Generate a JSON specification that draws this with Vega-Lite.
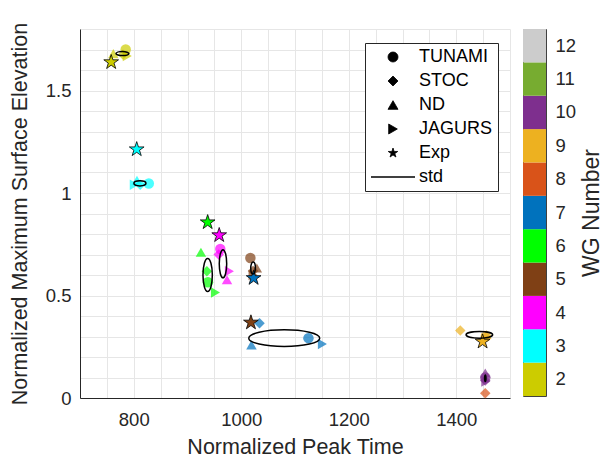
{
  "$schema": "https://vega.github.io/schema/vega-lite/v6.json",
  "background": "white",
  "padding": {"left": 9, "top": 20, "right": 5, "bottom": 5},
  "config": {
    "font": "Liberation Sans",
    "view": {"stroke": null},
    "axis": {
      "labelColor": "#262626",
      "titleColor": "#262626",
      "domainColor": "#262626",
      "tickColor": "#262626",
      "labelFontSize": 18.5,
      "titleFontSize": 21.5,
      "titleFontWeight": "normal"
    }
  },
  "spacing": 12,
  "resolve": {
    "scale": {"y": "independent", "x": "independent", "color": "shared"},
    "legend": {"shape": "independent", "color": "independent", "size": "independent"}
  },
  "hconcat": [
    {
      "width": 430,
      "height": 369,
      "layer": [
        {
          "data": {"values": [
            {"wg": 2, "model": "TUNAMI", "t": 785, "eta": 1.70},
            {"wg": 2, "model": "STOC", "t": 780, "eta": 1.675},
            {"wg": 2, "model": "ND", "t": 762, "eta": 1.68},
            {"wg": 2, "model": "JAGURS", "t": 788, "eta": 1.668},
            {"wg": 3, "model": "TUNAMI", "t": 828, "eta": 1.046},
            {"wg": 3, "model": "STOC", "t": 812, "eta": 1.04},
            {"wg": 3, "model": "ND", "t": 806, "eta": 1.062},
            {"wg": 3, "model": "JAGURS", "t": 801, "eta": 1.04},
            {"wg": 4, "model": "TUNAMI", "t": 961, "eta": 0.727},
            {"wg": 4, "model": "STOC", "t": 958, "eta": 0.70},
            {"wg": 4, "model": "ND", "t": 973.5, "eta": 0.577},
            {"wg": 4, "model": "JAGURS", "t": 978, "eta": 0.618},
            {"wg": 5, "model": "TUNAMI", "t": 1017, "eta": 0.683},
            {"wg": 5, "model": "STOC", "t": 1022, "eta": 0.62},
            {"wg": 5, "model": "ND", "t": 1029, "eta": 0.634},
            {"wg": 5, "model": "JAGURS", "t": 1022, "eta": 0.60},
            {"wg": 6, "model": "TUNAMI", "t": 938, "eta": 0.565},
            {"wg": 6, "model": "STOC", "t": 936, "eta": 0.618},
            {"wg": 6, "model": "ND", "t": 925, "eta": 0.711},
            {"wg": 6, "model": "JAGURS", "t": 952, "eta": 0.515},
            {"wg": 7, "model": "TUNAMI", "t": 1125, "eta": 0.292},
            {"wg": 7, "model": "STOC", "t": 1034, "eta": 0.365},
            {"wg": 7, "model": "ND", "t": 1019, "eta": 0.259},
            {"wg": 7, "model": "JAGURS", "t": 1151, "eta": 0.263},
            {"wg": 8, "model": "STOC", "t": 1454, "eta": 0.023},
            {"wg": 9, "model": "TUNAMI", "t": 1455, "eta": 0.30},
            {"wg": 9, "model": "STOC", "t": 1407.5, "eta": 0.329},
            {"wg": 9, "model": "ND", "t": 1456, "eta": 0.31},
            {"wg": 9, "model": "JAGURS", "t": 1455, "eta": 0.29},
            {"wg": 10, "model": "TUNAMI", "t": 1454, "eta": 0.10},
            {"wg": 10, "model": "STOC", "t": 1454, "eta": 0.085},
            {"wg": 10, "model": "ND", "t": 1454, "eta": 0.122},
            {"wg": 10, "model": "JAGURS", "t": 1455, "eta": 0.08}
          ]},
          "mark": {"type": "point", "filled": true, "opacity": 0.7, "size": 110},
          "encoding": {
            "x": {
              "field": "t", "type": "quantitative",
              "scale": {"domain": [700, 1500], "nice": false, "zero": false},
              "axis": {
                "title": "Normalized Peak Time",
                "values": [700, 750, 800, 850, 900, 950, 1000, 1050, 1100, 1150, 1200, 1250, 1300, 1350, 1400, 1450, 1500],
                "tickCount": 100,
                "format": "d",
                "labelExpr": "datum.value % 200 == 0 ? datum.label : ''",
                "labelOverlap": false,
                "grid": true,
                "gridColor": "#E6E6E6",
                "ticks": false,
                "labelPadding": 12,
                "titlePadding": 8
              }
            },
            "y": {
              "field": "eta", "type": "quantitative",
              "scale": {"domain": [0, 1.8], "nice": false},
              "axis": {
                "title": "Normalized Maximum Surface Elevation",
                "values": [0, 0.1, 0.2, 0.3, 0.4, 0.5, 0.6, 0.7, 0.8, 0.9, 1, 1.1, 1.2, 1.3, 1.4, 1.5, 1.6, 1.7, 1.8],
                "tickCount": 100,
                "format": "~g",
                "labelExpr": "round(datum.value*10) % 5 == 0 ? datum.label : ''",
                "labelOverlap": false,
                "grid": true,
                "gridColor": "#E6E6E6",
                "ticks": false,
                "labelPadding": 9,
                "titlePadding": 14
              }
            },
            "color": {
              "field": "wg", "type": "ordinal",
              "scale": {
                "domain": [2, 3, 4, 5, 6, 7, 8, 9, 10, 11, 12],
                "range": ["#CCCC00", "#00FFFF", "#FF00FF", "#7F4015", "#00FF00", "#0072BD", "#D95319", "#EDB120", "#7E2F8E", "#77AC30", "#CCCCCC"]
              },
              "legend": null
            },
            "shape": {
              "field": "model", "type": "nominal",
              "scale": {
                "domain": ["TUNAMI", "STOC", "ND", "JAGURS", "Exp", "std", "e2", "e3", "e4", "e5", "e6", "e7", "e9", "e10"],
                "range": [
                  "circle", "diamond", "triangle-up", "triangle-right",
                  "M0,-1L0.2245,-0.309L0.951,-0.309L0.363,0.118L0.588,0.809L0,0.382L-0.588,0.809L-0.363,0.118L-0.951,-0.309L-0.2245,-0.309Z",
                  "M-4.4,0L4.4,0",
                  "M1,0C1,0.171,0.552,0.31,0,0.31C-0.552,0.31,-1,0.171,-1,0C-1,-0.171,-0.552,-0.31,0,-0.31C0.552,-0.31,1,-0.171,1,0Z",
                  "M1,0C1,0.232,0.552,0.42,0,0.42C-0.552,0.42,-1,0.232,-1,0C-1,-0.232,-0.552,-0.42,0,-0.42C0.552,-0.42,1,-0.232,1,0Z",
                  "M1,0C1,2.098,0.552,3.8,0,3.8C-0.552,3.8,-1,2.098,-1,0C-1,-2.098,-0.552,-3.8,0,-3.8C0.552,-3.8,1,-2.098,1,0Z",
                  "M1,0C1,1.435,0.552,2.6,0,2.6C-0.552,2.6,-1,1.435,-1,0C-1,-1.435,-0.552,-2.6,0,-2.6C0.552,-2.6,1,-1.435,1,0Z",
                  "M1,0C1,1.96,0.552,3.55,0,3.55C-0.552,3.55,-1,1.96,-1,0C-1,-1.96,-0.552,-3.55,0,-3.55C0.552,-3.55,1,-1.96,1,0Z",
                  "M1,0C1,0.129,0.552,0.234,0,0.234C-0.552,0.234,-1,0.129,-1,0C-1,-0.129,-0.552,-0.234,0,-0.234C0.552,-0.234,1,-0.129,1,0Z",
                  "M1,0C1,0.138,0.552,0.25,0,0.25C-0.552,0.25,-1,0.138,-1,0C-1,-0.138,-0.552,-0.25,0,-0.25C0.552,-0.25,1,-0.138,1,0Z",
                  "M1,0C1,2.594,0.552,4.7,0,4.7C-0.552,4.7,-1,2.594,-1,0C-1,-2.594,-0.552,-4.7,0,-4.7C0.552,-4.7,1,-2.594,1,0Z"
                ]
              },
              "legend": {
                "title": null,
                "values": ["TUNAMI", "STOC", "ND", "JAGURS", "Exp", "std"],
                "orient": "none",
                "legendX": 285,
                "legendY": 14,
                "labelFontSize": 18,
                "labelColor": "#000000",
                "padding": 5,
                "rowPadding": 6,
                "strokeColor": "#262626",
                "fillColor": "white",
                "symbolSize": 100,
                "symbolOffset": 14,
                "labelOffset": 17,
                "symbolFillColor": "#CCCC00",
                "symbolOpacity": {"expr": "datum.value === 'Exp' || datum.value === 'std' ? 1 : 0.6"},
                "symbolStrokeColor": {"expr": "datum.value === 'Exp' || datum.value === 'std' ? '#000000' : 'transparent'"},
                "symbolStrokeWidth": {"expr": "datum.value === 'std' ? 1.3 : 0.8"}
              }
            }
          }
        },
        {
          "data": {"values": [
            {"wg": 2, "model": "Exp", "t": 758, "eta": 1.638},
            {"wg": 3, "model": "Exp", "t": 805.5, "eta": 1.213},
            {"wg": 4, "model": "Exp", "t": 959, "eta": 0.794},
            {"wg": 5, "model": "Exp", "t": 1018, "eta": 0.368},
            {"wg": 6, "model": "Exp", "t": 937.5, "eta": 0.857},
            {"wg": 7, "model": "Exp", "t": 1023, "eta": 0.585},
            {"wg": 9, "model": "Exp", "t": 1449, "eta": 0.275}
          ]},
          "mark": {"type": "point", "filled": true, "opacity": 1, "size": 240, "stroke": "#000000", "strokeWidth": 0.8},
          "encoding": {
            "x": {"field": "t", "type": "quantitative"},
            "y": {"field": "eta", "type": "quantitative"},
            "color": {"field": "wg", "type": "ordinal"},
            "shape": {"field": "model", "type": "nominal"}
          }
        },
        {
          "data": {"values": [
            {"wg": 2, "ell": "e2", "t": 779, "eta": 1.68, "t_std": 12.1, "eta_std": 0.0098},
            {"wg": 3, "ell": "e3", "t": 811.5, "eta": 1.047, "t_std": 11.2, "eta_std": 0.0122},
            {"wg": 4, "ell": "e4", "t": 966, "eta": 0.655, "t_std": 6.9, "eta_std": 0.068},
            {"wg": 5, "ell": "e5", "t": 1022, "eta": 0.634, "t_std": 4.3, "eta_std": 0.029},
            {"wg": 6, "ell": "e6", "t": 937.5, "eta": 0.60, "t_std": 8.7, "eta_std": 0.082},
            {"wg": 7, "ell": "e7", "t": 1080, "eta": 0.292, "t_std": 66, "eta_std": 0.041},
            {"wg": 9, "ell": "e9", "t": 1443, "eta": 0.308, "t_std": 24.7, "eta_std": 0.016},
            {"wg": 10, "ell": "e10", "t": 1454, "eta": 0.096, "t_std": 1.3, "eta_std": 0.016}
          ]},
          "mark": {"type": "point", "filled": false, "opacity": 1, "stroke": "#000000", "strokeWidth": 1.5},
          "encoding": {
            "x": {"field": "t", "type": "quantitative"},
            "y": {"field": "eta", "type": "quantitative"},
            "shape": {"field": "ell", "type": "nominal"},
            "size": {
              "field": "t_std", "type": "quantitative",
              "scale": {"type": "pow", "exponent": 2, "domain": [0, 100], "range": [0, 11556], "zero": true},
              "legend": null
            }
          }
        }
      ]
    },
    {
      "width": 23,
      "height": 367,
      "view": {"stroke": "#404040", "strokeWidth": 1},
      "data": {"values": [
        {"wg": 2}, {"wg": 3}, {"wg": 4}, {"wg": 5}, {"wg": 6}, {"wg": 7},
        {"wg": 8}, {"wg": 9}, {"wg": 10}, {"wg": 11}, {"wg": 12}
      ]},
      "mark": {"type": "rect"},
      "encoding": {
        "y": {
          "field": "wg", "type": "ordinal", "sort": "descending",
          "scale": {"paddingInner": 0, "paddingOuter": 0},
          "axis": {
            "orient": "right",
            "title": "WG Number",
            "titleFontSize": 23,
            "domain": false,
            "ticks": false,
            "labelAngle": 0,
            "labelPadding": 9,
            "titleAngle": 270,
            "titleBaseline": "top",
            "titlePadding": 5
          }
        },
        "color": {"field": "wg", "type": "ordinal", "legend": null}
      }
    }
  ]
}
